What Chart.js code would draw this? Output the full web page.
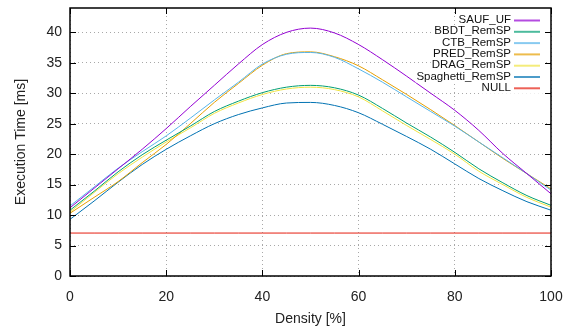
<!DOCTYPE html>
<html>
<head>
<meta charset="utf-8">
<script src="https://cdn.jsdelivr.net/npm/chart.js@4.4.1/dist/chart.umd.min.js"></script>
<style>
html, body { margin: 0; padding: 0; background: #fff; }
</style>
</head>
<body>
<canvas id="chart" width="570" height="329"></canvas>
<script>
var density = [0, 5, 10, 15, 20, 25, 30, 35, 40, 45, 50, 55, 60, 65, 70, 75, 80, 85, 90, 95, 100];

var saufUF         = [11.2, 14.4, 17.6, 20.8, 24.2, 27.8, 31.3, 34.8, 38.0, 40.0, 40.7, 39.9, 38.0, 35.5, 32.8, 30.0, 27.2, 23.9, 20.1, 16.8, 13.5];
var bbdtRemSP      = [10.8, 13.9, 17.1, 19.9, 22.3, 24.6, 27.0, 28.7, 30.1, 31.0, 31.3, 30.9, 29.7, 27.5, 25.1, 22.8, 20.3, 17.6, 15.3, 13.2, 11.6];
var ctbRemSP       = [11.5, 14.6, 17.7, 20.4, 23.0, 25.9, 28.9, 31.8, 34.8, 36.4, 36.7, 35.9, 34.0, 31.8, 29.4, 27.0, 24.6, 22.0, 19.4, 16.8, 14.1];
var predRemSP      = [10.3, 12.9, 15.5, 18.6, 21.6, 25.0, 28.5, 31.6, 34.6, 36.5, 36.8, 36.0, 34.5, 32.2, 29.8, 27.3, 24.7, 22.0, 19.3, 16.8, 14.3];
var dragRemSP      = [10.5, 13.7, 16.8, 19.5, 22.0, 24.3, 26.7, 28.4, 29.8, 30.7, 31.0, 30.6, 29.4, 27.1, 24.7, 22.4, 20.0, 17.2, 15.0, 12.9, 11.3];
var spaghettiRemSP = [9.3, 12.3, 15.4, 18.3, 20.8, 23.0, 25.0, 26.5, 27.6, 28.4, 28.5, 28.0, 26.8, 24.9, 22.9, 20.8, 18.4, 16.0, 14.0, 12.2, 10.8];
var nullLabeling   = [7.05, 7.05, 7.05, 7.05, 7.05, 7.05, 7.05, 7.05, 7.05, 7.05, 7.05, 7.05, 7.05, 7.05, 7.05, 7.05, 7.05, 7.05, 7.05, 7.05, 7.05];

var seriesNames = ['SAUF_UF', 'BBDT_RemSP', 'CTB_RemSP', 'PRED_RemSP', 'DRAG_RemSP', 'Spaghetti_RemSP', 'NULL'];
var seriesValues = [saufUF, bbdtRemSP, ctbRemSP, predRemSP, dragRemSP, spaghettiRemSP, nullLabeling];
var seriesColors = ['#9400d3', '#009e73', '#56b4e9', '#e69f00', '#f0e442', '#0072b2', '#e51e10'];

var xTickValues = [0, 20, 40, 60, 80, 100];
var yTickValues = [0, 5, 10, 15, 20, 25, 30, 35, 40];

function toPoints(values) {
    return values.map(function (v, i) { return { x: density[i], y: v }; });
}

var datasets = seriesNames.map(function (name, i) {
    return {
        label: name,
        data: toPoints(seriesValues[i]),
        borderColor: seriesColors[i],
        backgroundColor: seriesColors[i],
        borderWidth: 1,
        pointRadius: 0,
        cubicInterpolationMode: 'monotone',
        fill: false
    };
});

// gnuplot style frame, inward ticks on all four sides and the key at top right
var framePlugin = {
    id: 'gnuFrame',
    afterDraw: function (chart) {
        var ctx = chart.ctx;
        var area = chart.chartArea;
        var xs = chart.scales.x;
        var ys = chart.scales.y;
        ctx.save();
        ctx.strokeStyle = '#000';
        ctx.lineWidth = 1;
        ctx.beginPath();
        xs.ticks.forEach(function (t) {
            var px = Math.round(xs.getPixelForValue(t.value)) + 0.5;
            ctx.moveTo(px, area.bottom);
            ctx.lineTo(px, area.bottom - 6);
            ctx.moveTo(px, area.top);
            ctx.lineTo(px, area.top + 6);
        });
        ys.ticks.forEach(function (t) {
            var py = Math.round(ys.getPixelForValue(t.value)) + 0.5;
            ctx.moveTo(area.left, py);
            ctx.lineTo(area.left + 6, py);
            ctx.moveTo(area.right, py);
            ctx.lineTo(area.right - 6, py);
        });
        ctx.stroke();
        ctx.lineWidth = 1.5;
        ctx.strokeRect(area.left, area.top, area.right - area.left, area.bottom - area.top);

        ctx.font = '11.5px "Liberation Sans", Arial, sans-serif';
        ctx.textAlign = 'right';
        ctx.textBaseline = 'middle';
        chart.data.datasets.forEach(function (ds, i) {
            var ty = area.top + 12 + i * 11.3;
            var tx = area.right - 40;
            var w = ctx.measureText(ds.label).width;
            ctx.fillStyle = '#fff';
            ctx.fillRect(tx - w - 1, ty - 6, w + 33, 12);
            ctx.fillStyle = '#111';
            ctx.fillText(ds.label, tx, ty);
            ctx.strokeStyle = ds.borderColor;
            ctx.globalAlpha = 0.7;
            ctx.lineWidth = 2;
            ctx.beginPath();
            ctx.moveTo(tx + 3, ty + 0.5);
            ctx.lineTo(tx + 29, ty + 0.5);
            ctx.stroke();
            ctx.globalAlpha = 1;
        });
        ctx.restore();
    }
};

var tickFont = { family: '"Liberation Sans", Arial, sans-serif', size: 14 };

var ctx = document.getElementById('chart').getContext('2d');
var chart = new Chart(ctx, {
    type: 'line',
    data: { datasets: datasets },
    options: {
        responsive: false,
        animation: false,
        devicePixelRatio: 1,
        layout: { padding: { top: 8, right: 19, left: 0, bottom: 0 } },
        plugins: {
            legend: { display: false },
            tooltip: { enabled: false }
        },
        scales: {
            x: {
                type: 'linear',
                min: 0,
                max: 100,
                afterBuildTicks: function (axis) {
                    axis.ticks = xTickValues.map(function (v) { return { value: v }; });
                },
                afterFit: function (scale) {
                    scale.height = 53;
                    scale.paddingLeft = 0;
                    scale.paddingRight = 0;
                },
                ticks: { font: tickFont, color: '#222', padding: 13, maxRotation: 0 },
                grid: { color: '#a8a8a8', drawTicks: false, lineWidth: 1 },
                border: { display: false, dash: [1, 3] },
                title: {
                    display: true,
                    text: 'Density [%]',
                    font: tickFont,
                    color: '#222',
                    padding: { top: 0, bottom: 1 }
                }
            },
            y: {
                type: 'linear',
                min: 0,
                max: 44,
                afterBuildTicks: function (axis) {
                    axis.ticks = yTickValues.map(function (v) { return { value: v }; });
                },
                afterFit: function (scale) {
                    scale.width = 70;
                    scale.paddingTop = 0;
                    scale.paddingBottom = 0;
                },
                ticks: { font: tickFont, color: '#222', padding: 8 },
                grid: { color: '#a8a8a8', drawTicks: false, lineWidth: 1 },
                border: { display: false, dash: [1, 3] },
                title: {
                    display: true,
                    text: 'Execution Time [ms]',
                    font: tickFont,
                    color: '#222',
                    padding: { top: 13, bottom: 0 }
                }
            }
        }
    },
    plugins: [framePlugin]
});
</script>
</body>
</html>
